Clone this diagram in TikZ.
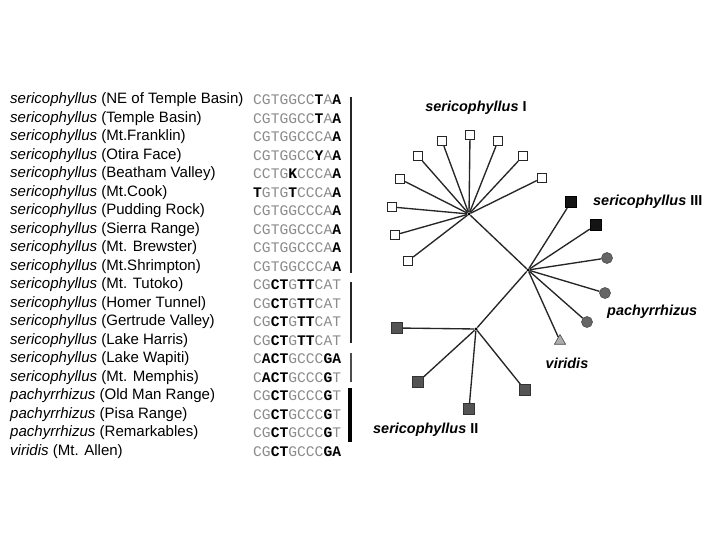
\documentclass[tikz,border=0pt]{standalone}
\usepackage{fontspec}
\setmainfont{Liberation Sans}
\setmonofont{Liberation Mono}
\usetikzlibrary{shapes.geometric}
\definecolor{seqgrey}{gray}{0.55}
\definecolor{darksq}{gray}{0.33}
\definecolor{circgrey}{gray}{0.4}
\definecolor{trigrey}{gray}{0.68}
\newcommand{\bx}[1]{\textcolor{black}{\textbf{#1}}}
\tikzset{
  rowtxt/.style={anchor=west, inner sep=0pt, font=\fontsize{15.1}{15}\selectfont},
  seqtxt/.style={anchor=west, inner sep=0pt, font=\fontsize{14.7}{15}\selectfont\ttfamily, text=seqgrey},
  grpbar/.style={line width=3pt, draw=black!85},
  edge/.style={line width=1.35pt, draw=black!85},
  hub/.style={circle, fill=black, inner sep=0pt, minimum size=3.5pt},
  opensq/.style={rectangle, draw=black!85, fill=white, line width=1.3pt, inner sep=0pt, minimum size=9bp},
  blacksq/.style={rectangle, draw=black, fill=black!92, line width=0.8pt, inner sep=0pt, minimum size=11.5bp},
  greysq/.style={rectangle, draw=black!80, fill=darksq, line width=0.8pt, inner sep=0pt, minimum size=10.5bp},
  greycirc/.style={circle, draw=black!70, fill=circgrey, line width=0.6pt, inner sep=0pt, minimum size=11bp},
  greytri/.style={regular polygon, regular polygon sides=3, draw=black!70, fill=trigrey, line width=0.6pt, inner sep=0pt, minimum size=13bp},
  grplabel/.style={inner sep=0pt, font=\fontsize{14.5}{15}\selectfont\bfseries}
}
\begin{document}
\begin{tikzpicture}[x=1bp, y=-1bp]
\fill[white] (0,0) rectangle (720,540);
\useasboundingbox (0,0) rectangle (720,540);
% species list
\foreach \i/\sp/\loc in {
 1/sericophyllus/NE of Temple Basin,
 2/sericophyllus/Temple Basin,
 3/sericophyllus/Mt.Franklin,
 4/sericophyllus/Otira Face,
 5/sericophyllus/Beatham Valley,
 6/sericophyllus/Mt.Cook,
 7/sericophyllus/Pudding Rock,
 8/sericophyllus/Sierra Range,
 9/sericophyllus/Mt. Brewster,
 10/sericophyllus/Mt.Shrimpton,
 11/sericophyllus/Mt. Tutoko,
 12/sericophyllus/Homer Tunnel,
 13/sericophyllus/Gertrude Valley,
 14/sericophyllus/Lake Harris,
 15/sericophyllus/Lake Wapiti,
 16/sericophyllus/Mt. Memphis,
 17/pachyrrhizus/Old Man Range,
 18/pachyrrhizus/Pisa Range,
 19/pachyrrhizus/Remarkables,
 20/viridis/Mt. Allen}
 { \node[rowtxt] (r\i) at (10,{100+18.5*(\i-1)}) {\textit{\sp} (\loc)}; }
% sequences
\foreach \i/\s in {
 1/CGTGGCC\bx{T}A\bx{A},
 2/CGTGGCC\bx{T}A\bx{A},
 3/CGTGGCCCA\bx{A},
 4/CGTGGCC\bx{Y}A\bx{A},
 5/CCTG\bx{K}CCCA\bx{A},
 6/\bx{T}GTG\bx{T}CCCA\bx{A},
 7/CGTGGCCCA\bx{A},
 8/CGTGGCCCA\bx{A},
 9/CGTGGCCCA\bx{A},
 10/CGTGGCCCA\bx{A},
 11/CG\bx{CT}G\bx{TT}CAT,
 12/CG\bx{CT}G\bx{TT}CAT,
 13/CG\bx{CT}G\bx{TT}CAT,
 14/CG\bx{CT}G\bx{TT}CAT,
 15/C\bx{ACT}GCCC\bx{GA},
 16/C\bx{ACT}GCCC\bx{G}T,
 17/CG\bx{CT}GCCC\bx{G}T,
 18/CG\bx{CT}GCCC\bx{G}T,
 19/CG\bx{CT}GCCC\bx{G}T,
 20/CG\bx{CT}GCCC\bx{GA}}
 { \node[seqtxt] (q\i) at (253,{100+18.5*(\i-1)}) {\s}; }
% group bars
\coordinate (b1t) at (351,97);  \coordinate (b1b) at (351,273);
\coordinate (b2t) at (351,282); \coordinate (b2b) at (351,343);
\coordinate (b3t) at (351,353); \coordinate (b3b) at (351,382);
\coordinate (b4t) at (350,388); \coordinate (b4b) at (350,442);
\draw[grpbar] (b1t) -- (b1b);
\draw[grpbar] (b2t) -- (b2b);
\draw[grpbar, draw=black!70] (b3t) -- (b3b);
\draw[grpbar, line width=4pt, draw=black] (b4t) -- (b4b);
% tree hubs
\node[hub] (h1) at (469,214) {};
\node[hub] (h0) at (528,270) {};
\node[hub] (h2) at (476,329) {};
% group I
\foreach \n/\x/\y in {a/470/135, b/442/141, c/498/141, d/418/156, e/523/156, f/400/179, g/542/178, h/392/207, k/395/235, m/408/261}
 { \node[opensq] (o\n) at (\x,\y) {}; \draw[edge] (h1) -- (o\n); }
% group III
\node[blacksq] (t1) at (571,202) {};
\node[blacksq] (t2) at (596,225) {};
\draw[edge] (h0) -- (t1);
\draw[edge] (h0) -- (t2);
% pachyrrhizus
\node[greycirc] (p1) at (607,258) {};
\node[greycirc] (p2) at (605,293) {};
\node[greycirc] (p3) at (587,322) {};
\foreach \n in {p1,p2,p3} { \draw[edge] (h0) -- (\n); }
% viridis
\node[greytri] (v1) at (560,341) {};
\draw[edge] (h0) -- (v1);
% group II
\foreach \n/\x/\y in {a/397/328, b/418/382, c/469/409, d/525/390}
 { \node[greysq] (g\n) at (\x,\y) {}; \draw[edge] (h2) -- (g\n); }
% backbone
\draw[edge] (h1) -- (h0);
\draw[edge] (h0) -- (h2);
% labels
\node[grplabel] (l1) at (476,108) {\textit{sericophyllus} I};
\node[grplabel, anchor=west] (l3) at (593,202) {\textit{sericophyllus} III};
\node[grplabel, anchor=west] (lp) at (607,312) {\textit{pachyrrhizus}};
\node[grplabel] (lv) at (567,363) {\textit{viridis}};
\node[grplabel, anchor=west] (l2) at (373,430) {\textit{sericophyllus} II};
\end{tikzpicture}
\end{document}
